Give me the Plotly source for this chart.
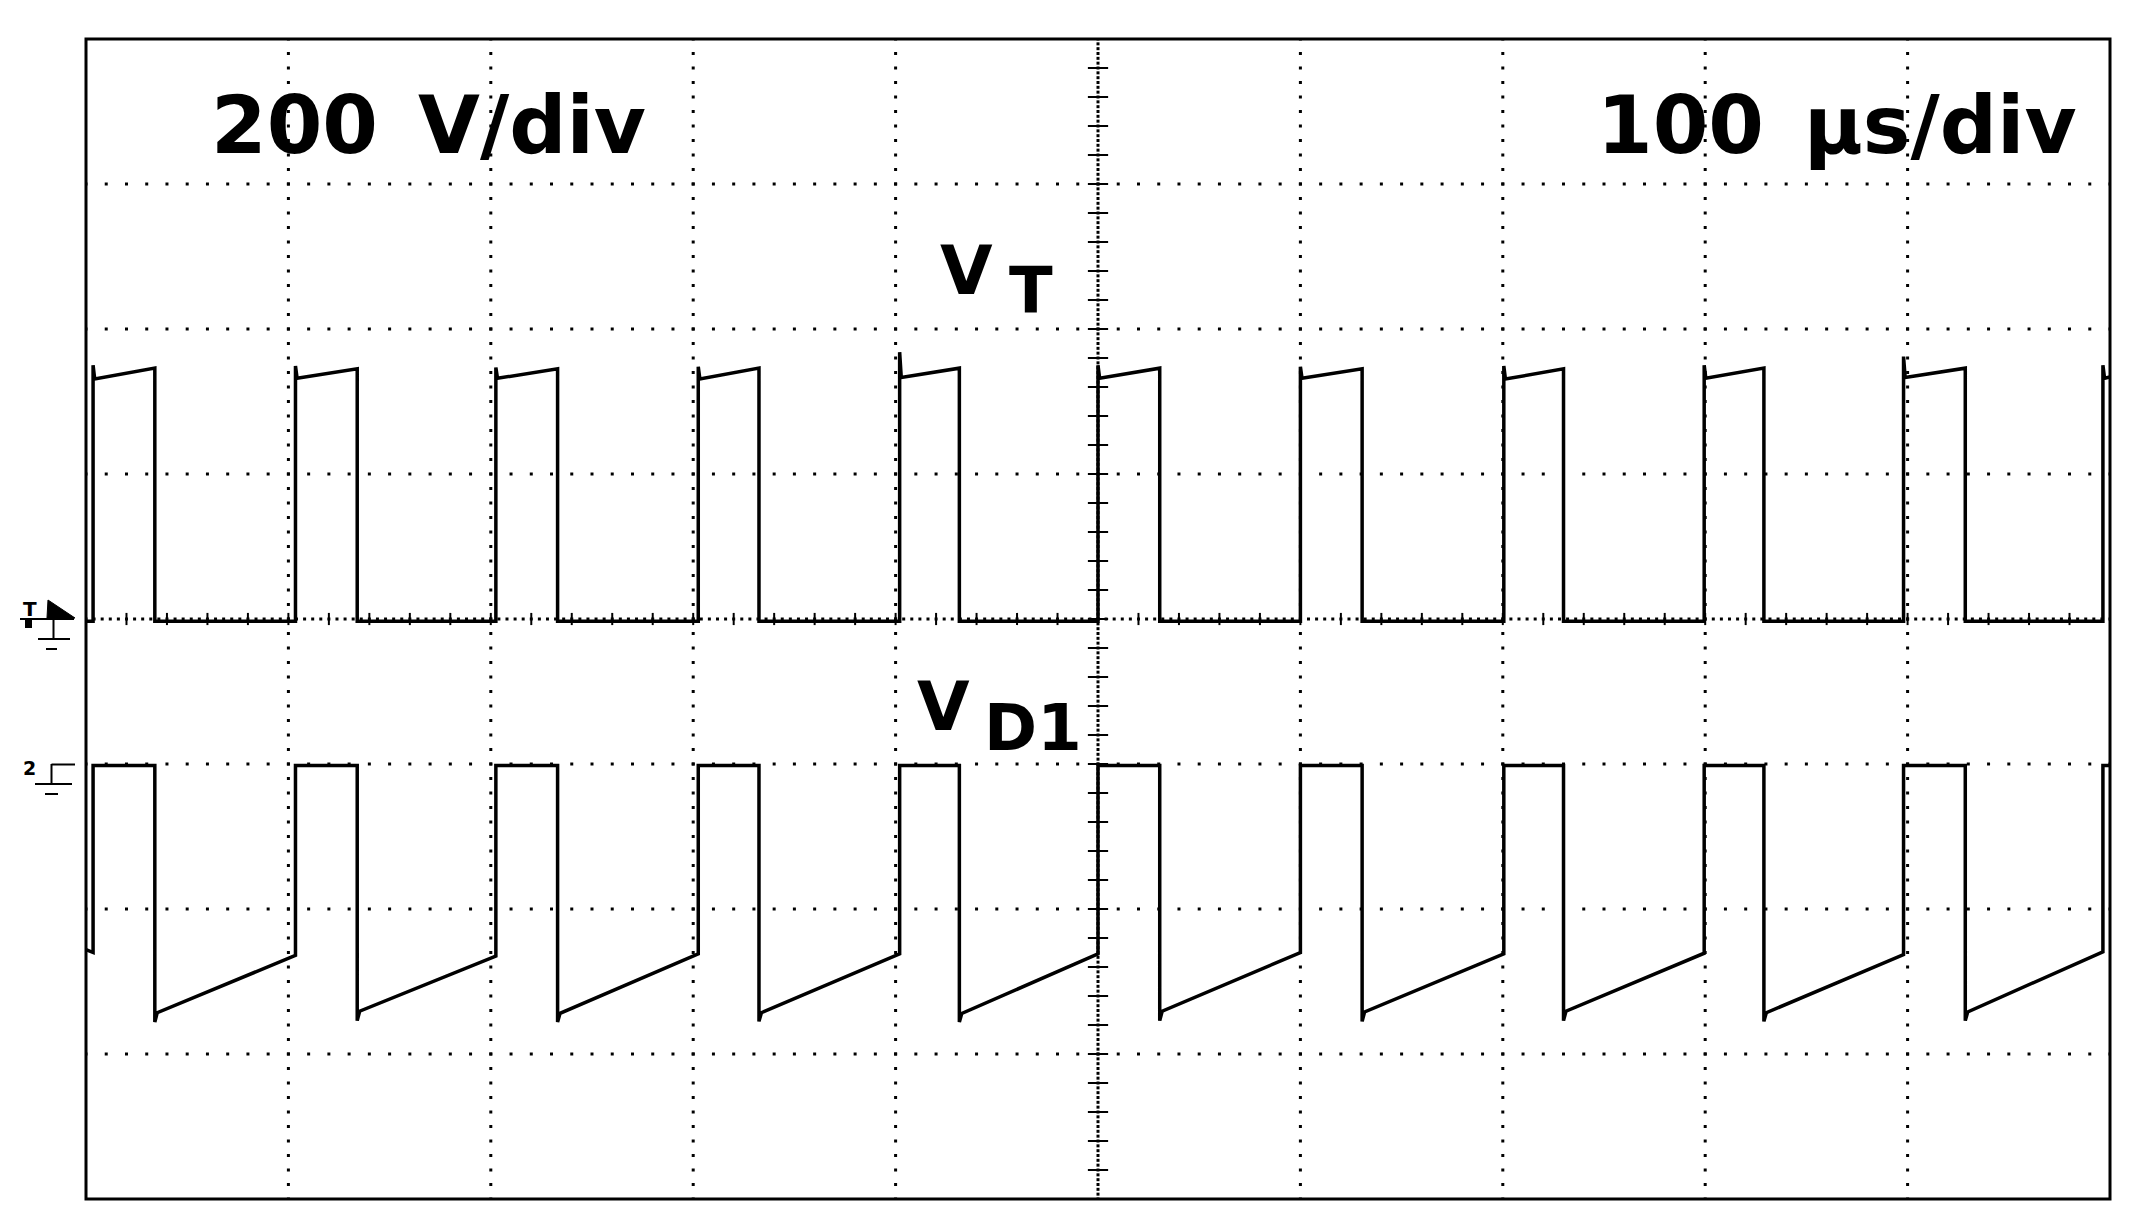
import numpy as np
import plotly.graph_objs as go

# scope screen: 10 x 8 divisions, 100 us/div, 200 V/div
US_PER_DIV = 100
V_PER_DIV = 200

# edge times (us)
t_rise = [3.5, 103.5, 202.5, 302.5, 402, 500, 600, 700.5, 799.5, 898, 996.5]
t_fall = [34, 134, 233, 332.5, 431.5, 530.5, 630.5, 730, 829, 928.5]

# channel 1 - V_T (volts)
vt_low = -3
vt_spike = [350, 349, 347, 348, 368, 350, 348, 349, 350, 362, 350]
vt_top_start = [331, 332, 332, 331, 333, 332, 332, 331, 332, 333, 332]
vt_top_end = [346, 345, 345, 346, 346, 346, 345, 345, 346, 346]

# channel 2 - V_D1 (volts)
vd_high = -2
vd_start = -256
vd_fall_spike = [-356, -354, -356, -355, -356, -354, -355, -354, -355, -354]
vd_ramp_start = [-343, -341, -344, -343, -344, -341, -342, -341, -343, -342]
vd_ramp_end = [-260, -264, -265, -262, -262, -262, -260, -262, -261, -263, -259]

# page / plot area in pixels
W, H = 2146, 1231
L, R, T, B = 78, 2102, 31, 1191
SHIFT = -8  # label pixel positions were read with this offset


def px(x, y):
    # pixel -> paper coords
    x, y = x + SHIFT, y + SHIFT
    return (x - L) / (R - L), 1 - (y - T) / (B - T)


# ---- build the two waveforms from the edges ----
t1, y1 = [0], [vt_low]
for i, tr in enumerate(t_rise):
    t1 += [tr, tr, tr + 0.8]
    y1 += [vt_low, vt_spike[i], vt_top_start[i]]
    if i < len(t_fall):
        tf = t_fall[i]
        t1 += [tf, tf]
        y1 += [vt_top_end[i], vt_low]
t1.append(1000)
y1.append(vt_top_start[-1] + 2)

t2, y2 = [0], [vd_start]
for i, tr in enumerate(t_rise):
    t2 += [tr, tr]
    y2 += [vd_ramp_end[i], vd_high]
    if i < len(t_fall):
        tf = t_fall[i]
        t2 += [tf, tf, tf + 1.2]
        y2 += [vd_high, vd_fall_spike[i], vd_ramp_start[i]]
t2.append(1000)
y2.append(vd_high)

# ---- graticule ----
gx, gy = [], []
for k in range(1, 10):
    if k == 5:
        continue
    ys = np.arange(-40, 41) / 10
    gx += [k] * len(ys)
    gy += list(ys)
for k in range(-3, 4):
    if k == 0:
        continue
    xs = np.arange(0, 101) / 10
    gx += list(xs)
    gy += [k] * len(xs)
# center cross, finer dots
ys = np.arange(-120, 121) / 30
gx += [5] * len(ys)
gy += list(ys)
xs = np.arange(0, 251) / 25
gx += list(xs)
gy += [0] * len(xs)
gx = np.array(gx) * US_PER_DIV
gy = np.array(gy) * V_PER_DIV

# tick marks on center cross, every 0.2 div
tx, ty = [], []
for v in np.arange(-20, 21) / 5:
    tx += [4.95 * US_PER_DIV, 5.05 * US_PER_DIV, None]
    ty += [v * V_PER_DIV, v * V_PER_DIV, None]
for h in np.arange(1, 50) / 5:
    tx += [h * US_PER_DIV, h * US_PER_DIV, None]
    ty += [-0.042 * V_PER_DIV, 0.042 * V_PER_DIV, None]

fig = go.Figure()
fig.add_trace(go.Scatter(x=gx, y=gy, mode="markers", hoverinfo="skip",
                         marker=dict(symbol="square", size=3, color="black", line=dict(width=0))))
fig.add_trace(go.Scatter(x=tx, y=ty, mode="lines", hoverinfo="skip",
                         line=dict(color="black", width=2)))
fig.add_trace(go.Scatter(x=t1, y=y1, mode="lines", name="V_T",
                         line=dict(color="black", width=3.5)))
fig.add_trace(go.Scatter(x=t2, y=y2, mode="lines", name="V_D1", yaxis="y2",
                         line=dict(color="black", width=3.5)))

# ---- labels ----
big = dict(family="DejaVu Sans", size=80, color="black", weight="bold")
lab = dict(family="DejaVu Sans", size=68, color="black", weight="bold")
sub = dict(family="DejaVu Sans", size=64, color="black", weight="bold")
notes = []


def note(text, x, y, font, xa="center"):
    a, b = px(x, y)
    notes.append(dict(text=text, x=a, y=b, xref="paper", yref="paper", xanchor=xa,
                      yanchor="middle", showarrow=False, font=font))


note("200\u2002V/div", 209, 126, big, "left")
note("100\u2002µs/div", 2079, 126, big, "right")
note("V", 966, 271, lab)
note("T", 1031, 291, sub)
note("V", 943, 706, lab)
note("D1", 1033, 728, sub)
note("T", 30, 609, dict(family="DejaVu Sans", size=20, color="black", weight="bold"))
note("2", 29, 768, dict(family="DejaVu Sans", size=19, color="black", weight="bold"))

# ---- channel markers left of the screen ----
shapes = []


def seg(x0, y0, x1, y1, w=2):
    a, b = px(x0, y0)
    c, d = px(x1, y1)
    shapes.append(dict(type="line", xref="paper", yref="paper", x0=a, y0=b, x1=c, y1=d,
                       line=dict(color="black", width=w)))


# ch1 ground + trigger flag
seg(20, 619, 74, 619)
seg(53.5, 619, 53.5, 639)
seg(38, 639, 70, 639)
seg(46, 649, 57, 649)
p = [px(48, 600), px(75, 618), px(47, 618)]
shapes.append(dict(type="path", xref="paper", yref="paper",
                   path="M %f,%f L %f,%f L %f,%f Z" % (p[0] + p[1] + p[2]),
                   fillcolor="black", line=dict(color="black", width=1)))
a, b = px(25, 620)
c, d = px(32, 628)
shapes.append(dict(type="rect", xref="paper", yref="paper", x0=a, y0=b, x1=c, y1=d,
                   fillcolor="black", line=dict(width=0)))
# ch2 ground
seg(51.5, 764.5, 75, 764.5)
seg(51.5, 764, 51.5, 784)
seg(35, 784, 72, 784)
seg(45, 794, 58, 794)

# screen frame
shapes.append(dict(type="rect", xref="paper", yref="paper", x0=0, y0=0, x1=1, y1=1,
                   line=dict(color="black", width=3), layer="above"))

fig.update_layout(
    width=W, height=H,
    margin=dict(l=L, r=W - R, t=T, b=H - B),
    paper_bgcolor="white", plot_bgcolor="white",
    showlegend=False,
    xaxis=dict(range=[0, 10 * US_PER_DIV], showgrid=False, zeroline=False,
               showticklabels=False, ticks=""),
    yaxis=dict(range=[-4 * V_PER_DIV, 4 * V_PER_DIV], showgrid=False, zeroline=False,
               showticklabels=False, ticks=""),
    # channel 2 ground sits one division below center
    yaxis2=dict(range=[-3 * V_PER_DIV, 5 * V_PER_DIV], overlaying="y", visible=False),
    annotations=notes,
    shapes=shapes,
)

fig.write_html("out.html")
